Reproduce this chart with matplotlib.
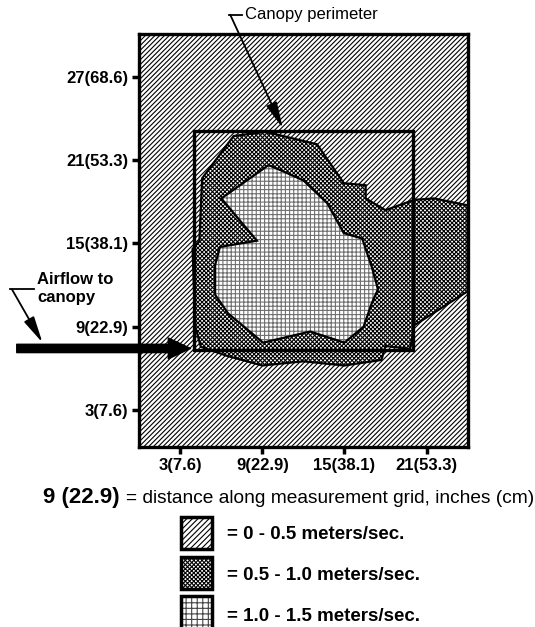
import matplotlib
matplotlib.use('Agg')
import matplotlib.pyplot as plt
from matplotlib.patches import Polygon, Rectangle
import numpy as np

plt.rcParams['font.family'] = ['Liberation Sans', 'DejaVu Sans']
plt.rcParams['hatch.linewidth'] = 0.8

# ---- data ----
x_ticks = [3, 9, 15, 21]
x_ticklabels = ['3(7.6)', '9(22.9)', '15(38.1)', '21(53.3)']
y_ticks = [3, 9, 15, 21, 27]
y_ticklabels = ['3(7.6)', '9(22.9)', '15(38.1)', '21(53.3)', '27(68.6)']

# 0.5 - 1.0 m/s zone outline (grid inches)
mid_x = [6.9, 9.2, 10.3, 13.0, 14.95, 16.55, 16.55, 18.0, 20.1, 21.55, 24.0,
         24.0, 20.1, 19.8, 18.0, 17.7, 15.0, 12.0, 9.0, 6.4, 4.5, 4.1, 3.9,
         4.4, 4.6]
mid_y = [22.75, 23.05, 22.8, 22.15, 19.35, 19.2, 18.25, 17.4, 18.15, 18.25,
         17.75, 11.55, 9.1, 7.4, 7.6, 6.6, 6.2, 6.5, 6.2, 6.9, 7.55, 9.0,
         14.6, 15.2, 19.7]

# 1.0 - 1.5 m/s zone outline
in_x = [9.45, 10.3, 12.0, 13.75, 14.95, 16.3, 17.0, 17.45, 17.0, 16.4, 15.0,
        12.5, 9.05, 6.5, 5.55, 5.55, 5.9, 8.6, 6.0]
in_y = [20.65, 20.3, 19.55, 17.9, 15.75, 15.35, 13.3, 11.7, 10.7, 9.0, 7.85,
        8.65, 7.85, 9.95, 11.3, 13.45, 14.75, 15.2, 18.25]

# canopy perimeter
canopy_x = [4.0, 20.0]
canopy_y = [7.35, 23.1]

# annotation anchor points (grid inches)
canopy_text_xy = (7.7, 31.5)
canopy_leader_x = [6.56, 7.5]
canopy_leader_y = [31.5, 31.5]
canopy_arrow_from = (6.65, 31.5)
canopy_arrow_to = (10.5, 23.3)

airflow_text_xy = (-7.45, 11.78)
airflow_leader_x = [-9.47, -7.67]
airflow_leader_y = [11.69, 11.69]
airflow_small_from = (-9.3, 11.69)
airflow_small_to = (-7.07, 7.85)
airflow_big_from = (-8.95, 7.43)
airflow_big_to = (3.75, 7.43)

legend_labels = ['= 0 - 0.5 meters/sec.', '= 0.5 - 1.0 meters/sec.',
                 '= 1.0 - 1.5 meters/sec.']
legend_hatches = ['//////', 'xxxxxxxx', '+++']
legend_hatch_colors = ['black', 'black', '#444444']

# ---- figure ----
fig = plt.figure(figsize=(5.35, 6.27), dpi=100)
ax = fig.add_axes([0.2602, 0.2866, 0.6138, 0.659])
ax.set_xlim(0, 24)
ax.set_ylim(0.3, 30.1)

ax.add_patch(Rectangle((0, 0), 1, 1, transform=ax.transAxes, facecolor='white',
                       edgecolor='black', lw=0, hatch='///////', zorder=0))

mid_pts = np.column_stack([mid_x, mid_y])
ax.add_patch(Polygon(mid_pts, closed=True, facecolor='white', edgecolor='black',
                     lw=0, hatch='xxxxxxxx', zorder=1))
ax.add_patch(Polygon(mid_pts, closed=True, fill=False, edgecolor='black',
                     lw=1.6, zorder=2))

in_pts = np.column_stack([in_x, in_y])
ax.add_patch(Polygon(in_pts, closed=True, facecolor='white', edgecolor='#707070',
                     lw=0, hatch='++++', zorder=3))
ax.add_patch(Polygon(in_pts, closed=True, fill=False, edgecolor='black',
                     lw=1.6, zorder=4))

ax.add_patch(Rectangle((canopy_x[0], canopy_y[0]), canopy_x[1] - canopy_x[0],
                       canopy_y[1] - canopy_y[0], fill=False, edgecolor='black',
                       lw=2.4, zorder=5))

for s in ax.spines.values():
    s.set_linewidth(2.4)
    s.set_zorder(10)

ax.set_xticks(x_ticks)
ax.set_xticklabels(x_ticklabels, fontsize=12, fontweight='bold')
ax.set_yticks(y_ticks)
ax.set_yticklabels(y_ticklabels, fontsize=12, fontweight='bold')
ax.tick_params(direction='out', length=5, width=2.5, pad=3)

# Canopy perimeter annotation
ax.text(*canopy_text_xy, 'Canopy perimeter', fontsize=12, ha='left',
        va='center', clip_on=False)
ax.plot(canopy_leader_x, canopy_leader_y, color='black', lw=1.3, clip_on=False)
ax.annotate('', xy=canopy_arrow_to, xytext=canopy_arrow_from,
            arrowprops=dict(arrowstyle='-|>,head_length=0.8,head_width=0.17',
                            lw=1.3, color='black', shrinkA=0, shrinkB=0,
                            mutation_scale=20),
            annotation_clip=False)

# Airflow annotation
ax.text(*airflow_text_xy, 'Airflow to\ncanopy', fontsize=12, fontweight='bold',
        ha='left', va='center', linespacing=1.25, clip_on=False)
ax.plot(airflow_leader_x, airflow_leader_y, color='black', lw=1.3, clip_on=False)
ax.annotate('', xy=airflow_small_to, xytext=airflow_small_from,
            arrowprops=dict(arrowstyle='-|>,head_length=0.8,head_width=0.17',
                            lw=1.3, color='black', shrinkA=0, shrinkB=0,
                            mutation_scale=20),
            annotation_clip=False)
ax.annotate('', xy=airflow_big_to, xytext=airflow_big_from,
            arrowprops=dict(arrowstyle='simple,head_length=0.8,head_width=0.75,tail_width=0.3',
                            color='black', shrinkA=0, shrinkB=0,
                            mutation_scale=20),
            annotation_clip=False)

# caption
fig.text(0.0798, 0.198, '9 (22.9)', fontsize=16, fontweight='bold', va='baseline')
fig.text(0.236, 0.198, '= distance along measurement grid, inches (cm)',
         fontsize=13.75, va='baseline')

# legend
box_x, box_w, box_h = 0.3383, 0.058, 0.0517
box_bottoms = [0.1244, 0.0606, -0.0016]
text_ys = [0.1483, 0.0829, 0.0175]
for lab, h, hc, yb, yt in zip(legend_labels, legend_hatches, legend_hatch_colors,
                              box_bottoms, text_ys):
    fig.add_artist(Rectangle((box_x, yb), box_w, box_h, transform=fig.transFigure,
                             facecolor='white', edgecolor=hc, lw=0, hatch=h))
    fig.add_artist(Rectangle((box_x, yb), box_w, box_h, transform=fig.transFigure,
                             fill=False, edgecolor='black', lw=2.5))
    fig.text(0.4243, yt, lab, fontsize=13.5, fontweight='bold', va='center')

fig.savefig('out.png', dpi=100)
